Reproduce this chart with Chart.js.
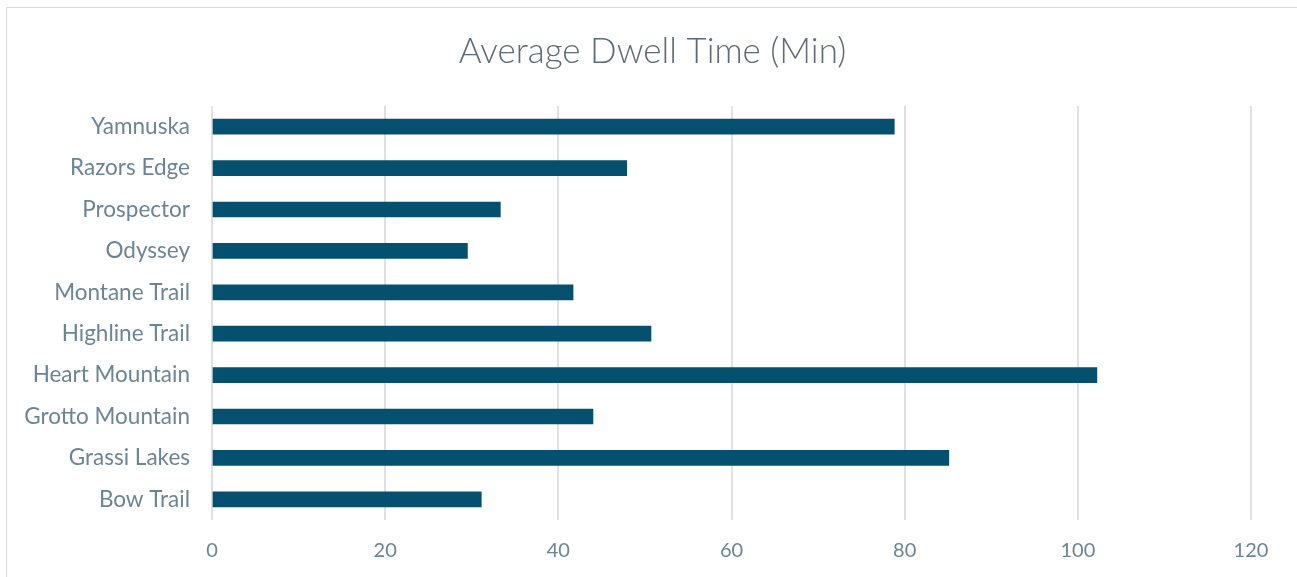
<!DOCTYPE html>
<html>
<head>
<meta charset="utf-8">
<script src="https://cdn.jsdelivr.net/npm/chart.js@4.4.1/dist/chart.umd.min.js"></script>
<style>
  html, body { margin: 0; padding: 0; background: #ffffff; }
  #wrap { position: relative; width: 1297px; height: 577px; }
</style>
</head>
<body>
<div id="wrap"><canvas id="chart" width="1297" height="577"></canvas></div>
<script>
// Trails (top to bottom as listed) and their average dwell time in minutes
const trails = ["Yamnuska", "Razors Edge", "Prospector", "Odyssey", "Montane Trail",
  "Highline Trail", "Heart Mountain", "Grotto Mountain", "Grassi Lakes", "Bow Trail"];
const dwellMinutes = [78.8, 47.9, 33.3, 29.5, 41.7, 50.7, 102.2, 44.0, 85.1, 31.1];
const xTicks = [0, 20, 40, 60, 80, 100, 120];

const labelColor = "#6d8497";
const gridColor = "#dde1e6";

// Thin frame around the chart panel
const framePlugin = {
  id: "frame",
  beforeDraw(chart) {
    const ctx = chart.ctx;
    ctx.save();
    ctx.strokeStyle = "#d9d9d9";
    ctx.lineWidth = 1;
    ctx.strokeRect(6.5, 7.5, 1400, 700);
    ctx.restore();
  }
};

new Chart(document.getElementById("chart"), {
  type: "bar",
  data: {
    labels: trails,
    datasets: [{
      label: "Average Dwell Time (Min)",
      data: dwellMinutes,
      backgroundColor: "#04506e",
      borderWidth: 0,
      barThickness: 15
    }]
  },
  options: {
    indexAxis: "y",
    responsive: false,
    animation: false,
    layout: { padding: { left: 8, right: 0, top: 0, bottom: 0 } },
    plugins: {
      legend: { display: false },
      tooltip: { enabled: false },
      title: {
        display: true,
        text: "Average Dwell Time (Min)",
        color: "#5f6a75",
        font: { family: "Lato", size: 35, weight: "300" },
        padding: { top: 31, bottom: 33 }
      }
    },
    scales: {
      x: {
        min: 0,
        max: 120,
        afterBuildTicks(scale) { scale.ticks = xTicks.map(v => ({ value: v })); },
        afterFit(scale) {
          scale.height = 57;
          scale.paddingRight = 46;
        },
        grid: { color: gridColor, lineWidth: 2, drawTicks: false },
        border: { display: false },
        ticks: {
          color: labelColor,
          font: { family: "Lato", size: 20 },
          padding: 19
        }
      },
      y: {
        afterFit(scale) { scale.width = 204; },
        grid: { display: false, drawTicks: false },
        border: { display: false },
        ticks: {
          color: labelColor,
          font: { family: "Lato", size: 22.5 },
          padding: 22
        }
      }
    }
  },
  plugins: [framePlugin]
});
</script>
</body>
</html>
